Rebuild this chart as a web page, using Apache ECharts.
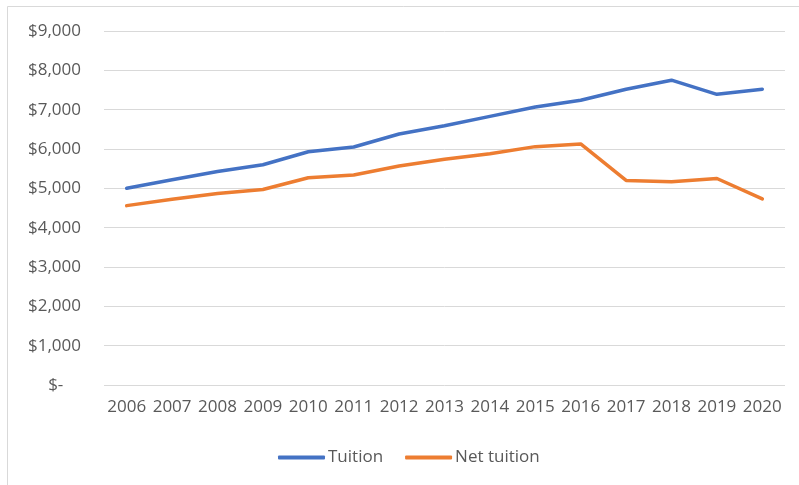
<!DOCTYPE html>
<html>
<head>
<meta charset="utf-8">
<script src="https://cdn.jsdelivr.net/npm/echarts@6/dist/echarts.min.js"></script>
<style>
  html, body { margin: 0; padding: 0; background: #ffffff; }
  #chart { width: 799px; height: 485px; }
</style>
</head>
<body>
<div id="chart"></div>
<script>
// Academic years on the category axis
const years = ['2006', '2007', '2008', '2009', '2010', '2011', '2012', '2013',
               '2014', '2015', '2016', '2017', '2018', '2019', '2020'];

// Published tuition and net tuition, dollars
const tuition = [5000, 5220, 5430, 5600, 5930, 6050, 6380, 6590,
                 6830, 7070, 7240, 7520, 7750, 7390, 7520];
const netTuition = [4560, 4720, 4870, 4970, 5270, 5340, 5570, 5740,
                    5880, 6060, 6130, 5200, 5170, 5250, 4730];

// Value-axis ticks
const yMin = 0;
const yMax = 9000;
const yStep = 1000;

const seriesNames = ['Tuition', 'Net tuition'];
const seriesColors = ['#4472C4', '#ED7D31'];

const textColor = '#595959';
const fontFamily = '"Open Sans", "Liberation Sans", sans-serif';

function dollarLabel(v) {
  if (v === 0) return '$-    ';
  return '$' + v.toLocaleString('en-US');
}

const chart = echarts.init(document.getElementById('chart'), null, { renderer: 'canvas' });

chart.setOption({
  backgroundColor: '#ffffff',
  animation: false,
  textStyle: { fontFamily: fontFamily },
  graphic: [{
    type: 'rect',
    shape: { x: 7.5, y: 6.5, width: 800, height: 490 },
    style: { fill: 'none', stroke: '#d9d9d9', lineWidth: 1 },
    silent: true
  }],
  grid: { left: 104, right: 14, top: 31, bottom: 100 },
  legend: {
    data: seriesNames.map((n, i) => ({
      name: n,
      icon: 'roundRect',
      itemStyle: { color: seriesColors[i] }
    })),
    left: 273,
    top: 444,
    itemWidth: 47,
    itemHeight: 4,
    itemGap: 22,
    textStyle: { color: textColor, fontSize: 17, fontFamily: fontFamily, padding: [0, 0, 0, -2] }
  },
  xAxis: {
    type: 'category',
    data: years,
    boundaryGap: true,
    axisLine: { show: false },
    axisTick: { show: false },
    axisLabel: { color: textColor, fontSize: 17, margin: 14, interval: 0 }
  },
  yAxis: {
    type: 'value',
    min: yMin,
    max: yMax,
    interval: yStep,
    axisLine: { show: false },
    axisTick: { show: false },
    axisLabel: { color: textColor, fontSize: 17, margin: 23, formatter: dollarLabel },
    splitLine: { lineStyle: { color: '#d9d9d9', width: 1 } }
  },
  series: [
    {
      name: seriesNames[0],
      type: 'line',
      data: tuition,
      symbol: 'none',
      lineStyle: { color: seriesColors[0], width: 3.5, cap: 'round', join: 'round' },
      itemStyle: { color: seriesColors[0] }
    },
    {
      name: seriesNames[1],
      type: 'line',
      data: netTuition,
      symbol: 'none',
      lineStyle: { color: seriesColors[1], width: 3.5, cap: 'round', join: 'round' },
      itemStyle: { color: seriesColors[1] }
    }
  ]
});
</script>
</body>
</html>
